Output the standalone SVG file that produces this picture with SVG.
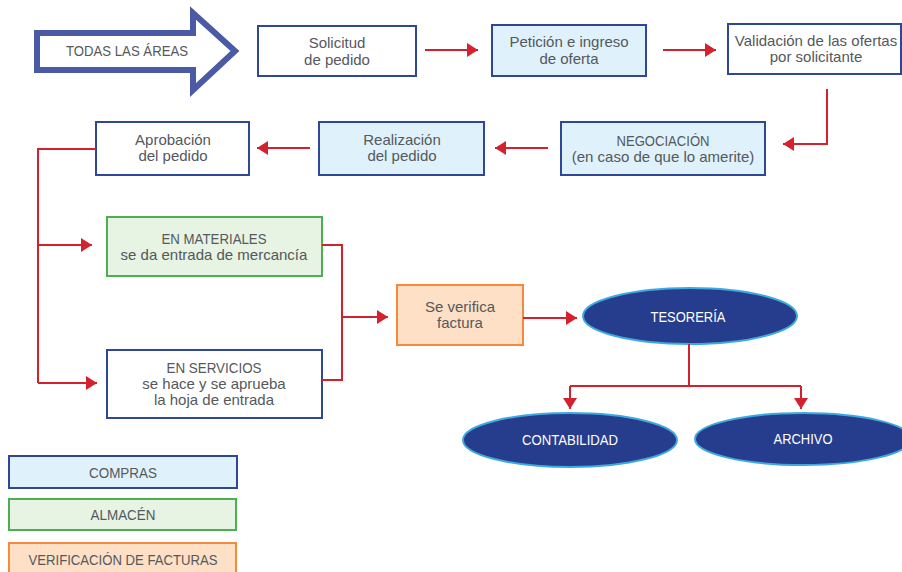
<svg xmlns="http://www.w3.org/2000/svg" width="902" height="572" viewBox="0 0 902 572">
  <defs>
    <marker id="arrow" markerUnits="userSpaceOnUse" markerWidth="12" markerHeight="14" refX="11" refY="7" orient="auto">
      <path d="M0,0 L11,7 L0,14 Z" fill="#d3212d"/>
    </marker>
  </defs>
  <style>
    text { font-family: "Liberation Sans", Arial, sans-serif; fill: #55585c; text-anchor: middle; }
    .lc { font-size: 15px; }
    .uc { font-size: 14.5px; }
    .wt { font-size: 14.5px; fill: #ffffff; }
    .blue { fill: #ffffff; stroke: #2f4799; stroke-width: 2; }
    .lblue { fill: #dff1fa; stroke: #2f4799; stroke-width: 2; }
    .green { fill: #e7f3e3; stroke: #4caf50; stroke-width: 2; }
    .orange { fill: #fde0c6; stroke: #f58a3c; stroke-width: 2; }
    .oval { fill: #253d8c; stroke: #3ea9e0; stroke-width: 2; }
    .link { fill: none; stroke: #d3212d; stroke-width: 2; }
  </style>

  <!-- entry arrow -->
  <g id="todas">
    <path d="M37,33 H193 V13 L235,51 L193,90 V70 H37 Z" fill="#ffffff" stroke="#4a5aa5" stroke-width="6" stroke-linejoin="miter"/>
    <text class="uc" x="127" y="56" textLength="122" lengthAdjust="spacingAndGlyphs">TODAS LAS ÁREAS</text>
  </g>

  <g id="solicitud">
    <rect class="blue" x="258" y="26" width="158" height="50"/>
    <text class="lc" x="337" y="48">Solicitud</text>
    <text class="lc" x="337" y="65">de pedido</text>
  </g>

  <g id="peticion">
    <rect class="lblue" x="492" y="25" width="154" height="51"/>
    <text class="lc" x="569" y="47">Petición e ingreso</text>
    <text class="lc" x="569" y="64">de oferta</text>
  </g>

  <g id="validacion">
    <rect class="blue" x="728" y="24" width="173" height="50"/>
    <text class="lc" x="816" y="46">Validación de las ofertas</text>
    <text class="lc" x="816" y="62">por solicitante</text>
  </g>

  <g id="negociacion">
    <rect class="lblue" x="561" y="122" width="204" height="53"/>
    <text class="uc" x="663" y="146" textLength="93" lengthAdjust="spacingAndGlyphs">NEGOCIACIÓN</text>
    <text class="lc" x="663" y="162">(en caso de que lo amerite)</text>
  </g>

  <g id="realizacion">
    <rect class="lblue" x="319" y="122" width="165" height="53"/>
    <text class="lc" x="402" y="145">Realización</text>
    <text class="lc" x="402" y="161">del pedido</text>
  </g>

  <g id="aprobacion">
    <rect class="blue" x="96" y="122" width="153" height="53"/>
    <text class="lc" x="173" y="145">Aprobación</text>
    <text class="lc" x="173" y="161">del pedido</text>
  </g>

  <g id="materiales">
    <rect class="green" x="107" y="217" width="215" height="59"/>
    <text class="uc" x="214" y="244" textLength="105" lengthAdjust="spacingAndGlyphs">EN MATERIALES</text>
    <text class="lc" x="214" y="260">se da entrada de mercancía</text>
  </g>

  <g id="servicios">
    <rect class="blue" x="107" y="350" width="215" height="68"/>
    <text class="uc" x="214" y="373" textLength="95" lengthAdjust="spacingAndGlyphs">EN SERVICIOS</text>
    <text class="lc" x="214" y="389">se hace y se aprueba</text>
    <text class="lc" x="214" y="405">la hoja de entrada</text>
  </g>

  <g id="verifica">
    <rect class="orange" x="397" y="285" width="126" height="60"/>
    <text class="lc" x="460" y="312">Se verifica</text>
    <text class="lc" x="460" y="328">factura</text>
  </g>

  <g id="tesoreria">
    <ellipse class="oval" cx="690" cy="316" rx="107" ry="28"/>
    <text class="wt" x="688" y="322" textLength="75" lengthAdjust="spacingAndGlyphs">TESORERÍA</text>
  </g>

  <g id="contabilidad">
    <ellipse class="oval" cx="570" cy="440" rx="107" ry="27"/>
    <text class="wt" x="570" y="445" textLength="96" lengthAdjust="spacingAndGlyphs">CONTABILIDAD</text>
  </g>

  <g id="archivo">
    <ellipse class="oval" cx="803" cy="439" rx="108" ry="26"/>
    <text class="wt" x="803" y="444" textLength="59" lengthAdjust="spacingAndGlyphs">ARCHIVO</text>
  </g>

  <!-- legend -->
  <g id="leyenda-compras">
    <rect class="lblue" x="9" y="456" width="228" height="32"/>
    <text class="uc" x="123" y="478" textLength="68" lengthAdjust="spacingAndGlyphs">COMPRAS</text>
  </g>
  <g id="leyenda-almacen">
    <rect class="green" x="9" y="499" width="227" height="31"/>
    <text class="uc" x="123" y="520" textLength="65" lengthAdjust="spacingAndGlyphs">ALMACÉN</text>
  </g>
  <g id="leyenda-verificacion">
    <rect class="orange" x="9" y="543" width="227" height="34"/>
    <text class="uc" x="123" y="565" textLength="189" lengthAdjust="spacingAndGlyphs">VERIFICACIÓN DE FACTURAS</text>
  </g>

  <!-- connectors -->
  <g id="connectors">
    <path class="link" d="M425,50 H478" marker-end="url(#arrow)"/>
    <path class="link" d="M663,50 H716" marker-end="url(#arrow)"/>
    <path class="link" d="M827,89 V144 H783" marker-end="url(#arrow)"/>
    <path class="link" d="M548,148 H495" marker-end="url(#arrow)"/>
    <path class="link" d="M310,148 H257" marker-end="url(#arrow)"/>
    <path class="link" d="M96,149 H38 V383"/>
    <path class="link" d="M38,245 H92" marker-end="url(#arrow)"/>
    <path class="link" d="M38,383 H97" marker-end="url(#arrow)"/>
    <path class="link" d="M322,245 H342 V380 H322"/>
    <path class="link" d="M342,317 H388" marker-end="url(#arrow)"/>
    <path class="link" d="M523,318 H577" marker-end="url(#arrow)"/>
    <path class="link" d="M689,344 V386"/>
    <path class="link" d="M570,386 H801"/>
    <path class="link" d="M570,386 V409" marker-end="url(#arrow)"/>
    <path class="link" d="M801,386 V409" marker-end="url(#arrow)"/>
  </g>
</svg>
